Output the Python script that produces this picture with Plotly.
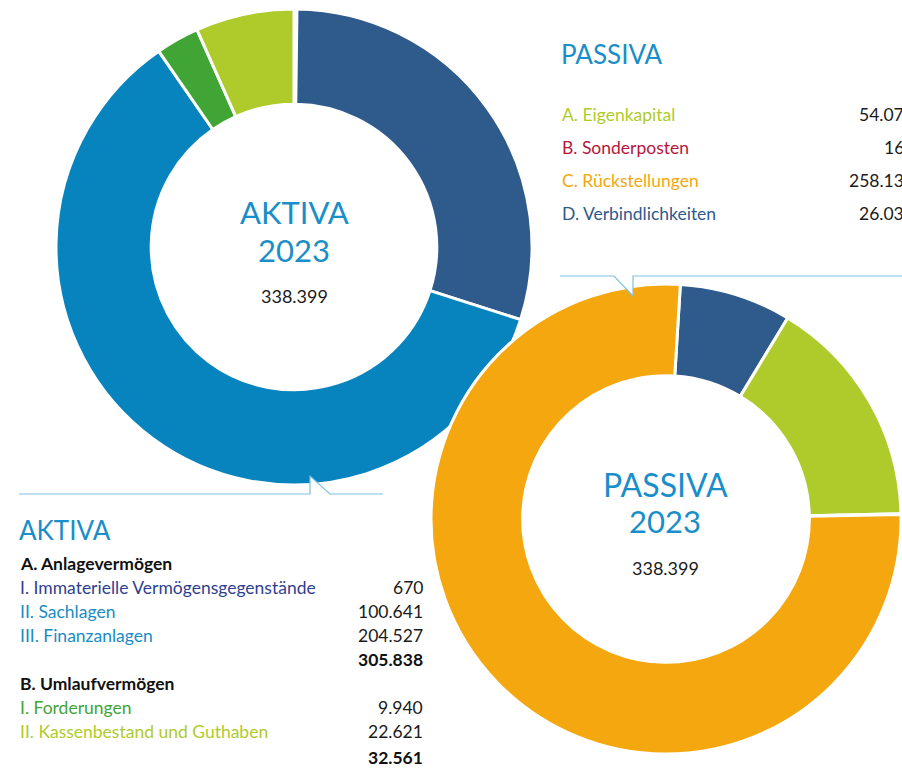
import plotly.graph_objects as go

W, H = 902, 769

# --- data -------------------------------------------------------------
aktiva_labels = ["I. Immaterielle Vermögensgegenstände", "II. Sachlagen", "III. Finanzanlagen",
                 "I. Forderungen", "II. Kassenbestand und Guthaben"]
aktiva_values = [670, 100641, 204527, 9940, 22621]
aktiva_colors = ["#2f3f8f", "#2e5a8c", "#0783bd", "#41a536", "#afcb2b"]
aktiva_text_colors = ["#2f3f8f", "#1a8cc4", "#1a8cc4", "#41a536", "#afcb2b"]

passiva_labels = ["A. Eigenkapital", "B. Sonderposten", "C. Rückstellungen", "D. Verbindlichkeiten"]
passiva_values = [54074, 163, 258130, 26032]
passiva_colors = ["#afcb2b", "#b5173b", "#f5a70f", "#2e5a8c"]

jahr = "2023"
titel_blau = "#1a8ec8"
linie_blau = "#7cc0e2"


def fmt(v):
    return f"{v:,}".replace(",", ".")


def px(x):
    return x / W


def py(y):
    return 1 - y / H


# pie order in the donut: D, A, B, C clockwise from top
p_order = [3, 0, 1, 2]

fig = go.Figure()

fig.add_trace(go.Pie(
    labels=aktiva_labels, values=aktiva_values,
    marker=dict(colors=aktiva_colors, line=dict(color="white", width=3)),
    hole=0.60, sort=False, direction="clockwise", rotation=0,
    textinfo="none", showlegend=False,
    domain=dict(x=[px(56), px(532)], y=[py(485), py(9)]),
))

fig.add_trace(go.Pie(
    labels=[passiva_labels[i] for i in p_order],
    values=[passiva_values[i] for i in p_order],
    marker=dict(colors=[passiva_colors[i] for i in p_order], line=dict(color="white", width=3)),
    hole=0.61, sort=False, direction="clockwise", rotation=3.5,
    textinfo="none", showlegend=False,
    domain=dict(x=[px(431), px(901)], y=[py(754), py(284)]),
))

ann = []


def txt(x, y, s, size=17.5, color="#1a1a1a", anchor="left", bold=False):
    if bold:
        s = "<b>" + s + "</b>"
    ann.append(dict(x=px(x), y=py(y), xref="paper", yref="paper", text=s, showarrow=False,
                    xanchor=anchor, yanchor="middle", font=dict(size=size, color=color)))


total_a = sum(aktiva_values)
total_p = sum(passiva_values)

# donut centres
txt(294, 212, "AKTIVA", 31, titel_blau, "center")
txt(294, 250, jahr, 31, titel_blau, "center")
txt(294, 296, fmt(total_a), 18, "#1a1a1a", "center")
txt(665, 484, "PASSIVA", 32, titel_blau, "center")
txt(665, 521, jahr, 31, titel_blau, "center")
txt(665, 568, fmt(total_p), 18, "#1a1a1a", "center")

# passiva list (top right, cut at the edge like the original)
txt(559, 54, "PASSIVA", 26, titel_blau)
for i, (lab, val, col) in enumerate(zip(passiva_labels, passiva_values, passiva_colors)):
    y = 114 + i * 33.3
    txt(560, y, lab, 17.5, col)
    txt(916, y, fmt(val), 17.5, "#1a1a1a", "right")

# aktiva list (bottom left)
txt(17, 530, "AKTIVA", 26, titel_blau)
txt(18, 563, "A. Anlagevermögen", 17.5, "#111111", bold=True)
rows_y = [587, 611, 635]
for i in range(3):
    txt(18, rows_y[i], aktiva_labels[i], 17.5, aktiva_text_colors[i])
    txt(425, rows_y[i], fmt(aktiva_values[i]), 17.5, "#1a1a1a", "right")
txt(425, 659, fmt(sum(aktiva_values[:3])), 17.5, "#111111", "right", bold=True)
txt(18, 683, "B. Umlaufvermögen", 17.5, "#111111", bold=True)
rows_y = [707, 731]
for j, i in enumerate([3, 4]):
    txt(18, rows_y[j], aktiva_labels[i], 17.5, aktiva_text_colors[i])
    txt(425, rows_y[j], fmt(aktiva_values[i]), 17.5, "#1a1a1a", "right")
txt(425, 757, fmt(sum(aktiva_values[3:])), 17.5, "#111111", "right", bold=True)


def path(pts):
    return "M " + " L ".join(f"{px(x)},{py(y)}" for x, y in pts)


shapes = [
    dict(type="path", xref="paper", yref="paper", layer="above",
         path=path([(19, 494), (310, 494), (310, 476), (330, 494), (383, 494)]),
         fillcolor="white", line=dict(color=linie_blau, width=1.2)),
    dict(type="path", xref="paper", yref="paper", layer="above",
         path=path([(560, 276), (614, 276), (633, 296), (633, 276), (903, 276)]),
         fillcolor="white", line=dict(color=linie_blau, width=1.2)),
]

fig.update_layout(
    width=W, height=H,
    margin=dict(l=0, r=0, t=0, b=0),
    paper_bgcolor="white", plot_bgcolor="white",
    font=dict(family="Lato, sans-serif", size=17.5),
    annotations=ann, shapes=shapes,
)

# page margin off so the figure sits at the window corner
fig.write_html("out.html", config={"displayModeBar": False},
               post_script="document.body.style.margin='0';")
